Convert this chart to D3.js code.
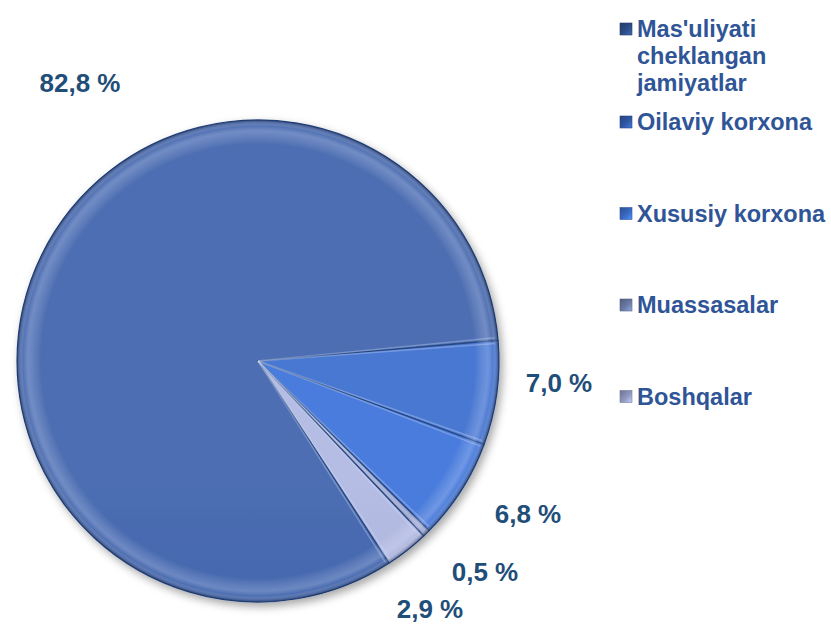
<!DOCTYPE html>
<html>
<head>
<meta charset="utf-8">
<script src="https://cdn.jsdelivr.net/npm/d3@7"></script>
<style>
  body { margin: 0; background: #ffffff; }
  svg { display: block; font-family: "Liberation Sans", Arial, sans-serif; }
</style>
</head>
<body>
<div id="my_pie"></div>
<script>
// data
const categories = ["Mas'uliyati cheklangan jamiyatlar", "Oilaviy korxona", "Xususiy korxona", "Muassasalar", "Boshqalar"];
const values = [82.8, 7.0, 6.8, 0.5, 2.9];
const valueLabels = ["82,8 %", "7,0 %", "6,8 %", "0,5 %", "2,9 %"];
const legendLines = [["Mas'uliyati", "cheklangan", "jamiyatlar"], ["Oilaviy korxona"], ["Xususiy korxona"], ["Muassasalar"], ["Boshqalar"]];

function draw_pie(){
  const width = 831, height = 626;
  const cx = 258, cy = 361, radius = 241;

  // slice colours (top, bottom of the vertical shading)
  const sliceTop = ["#4d6eb2", "#4878d2", "#4a7cdc", "#9aa3cc", "#b6bde4"];
  const sliceBot = ["#2651a2", "#305fbc", "#3265c8", "#6e7aab", "#959ecc"];
  const legendCol = ["#2c4d86", "#3258a4", "#3a69c2", "#6b7aa6", "#8f97bf"];

  // where excel put the value labels (centre x, baseline y)
  const labelPos = [[80, 92], [559, 392], [528, 523], [485, 581], [430, 618]];

  const svg = d3.select("#my_pie")
    .append("svg")
      .attr("width", width)
      .attr("height", height);

  const defs = svg.append("defs");

  const shadow = defs.append("filter")
      .attr("id", "shadow")
      .attr("x", "-10%").attr("y", "-10%")
      .attr("width", "125%").attr("height", "125%");
  shadow.append("feDropShadow")
      .attr("dx", 3).attr("dy", 4)
      .attr("stdDeviation", 4)
      .attr("flood-color", "#000")
      .attr("flood-opacity", 0.35);

  values.forEach(function(v, i){
    const g = defs.append("linearGradient")
        .attr("id", "grad" + i)
        .attr("gradientUnits", "userSpaceOnUse")
        .attr("x1", 0).attr("y1", cy - radius)
        .attr("x2", 0).attr("y2", cy + radius);
    g.append("stop").attr("offset", "0%").attr("stop-color", sliceTop[i]);
    g.append("stop").attr("offset", "100%").attr("stop-color", sliceBot[i]);

    // small pyramid-ish legend key
    const k = defs.append("linearGradient")
        .attr("id", "key" + i)
        .attr("x1", 0).attr("y1", 0).attr("x2", 1).attr("y2", 1);
    k.append("stop").attr("offset", "0%").attr("stop-color", d3.color(legendCol[i]).darker(0.8));
    k.append("stop").attr("offset", "55%").attr("stop-color", legendCol[i]);
    k.append("stop").attr("offset", "100%").attr("stop-color", d3.color(legendCol[i]).brighter(0.9));
  });

  // rim highlight for the bevel
  const rim = defs.append("radialGradient")
      .attr("id", "rim")
      .attr("gradientUnits", "userSpaceOnUse")
      .attr("cx", cx).attr("cy", cy).attr("r", radius);
  rim.append("stop").attr("offset", "0.90").attr("stop-color", "#ffffff").attr("stop-opacity", 0);
  rim.append("stop").attr("offset", "0.955").attr("stop-color", "#dfe8ff").attr("stop-opacity", 0.25);
  rim.append("stop").attr("offset", "0.975").attr("stop-color", "#ffffff").attr("stop-opacity", 0.04);
  rim.append("stop").attr("offset", "1").attr("stop-color", "#0b1f4a").attr("stop-opacity", 0.55);

  const start = 147 * Math.PI / 180;
  const pie = d3.pie()
    .sort(null)
    .startAngle(start)
    .endAngle(start + 2 * Math.PI);
  const arcs = pie(values);

  const arc = d3.arc().innerRadius(0).outerRadius(radius);

  // gradients are in page units, so each slice is shifted on its own
  const gPie = svg.append("g").attr("filter", "url(#shadow)");
  gPie.selectAll("path.slice")
    .data(arcs)
    .join("path")
      .attr("class", "slice")
      .attr("d", arc)
      .attr("transform", `translate(${cx}, ${cy})`)
      .attr("fill", (d, i) => `url(#grad${i})`)
      .attr("stroke", "#27467e")
      .attr("stroke-width", 1.2)
      .attr("stroke-linejoin", "round");

  // light bevel line just inside each straight edge
  const bevel = svg.append("g").attr("transform", `translate(${cx}, ${cy})`);
  arcs.forEach(function(d){
    [d.startAngle + 0.012, d.endAngle - 0.012].forEach(function(a){
      bevel.append("line")
        .attr("x1", 0).attr("y1", 0)
        .attr("x2", Math.sin(a) * (radius - 3))
        .attr("y2", -Math.cos(a) * (radius - 3))
        .attr("stroke", "#c8d6f5")
        .attr("stroke-opacity", 0.35)
        .attr("stroke-width", 1.5);
    });
  });

  // rim overlay
  svg.append("circle")
      .attr("cx", cx).attr("cy", cy).attr("r", radius)
      .attr("fill", "url(#rim)")
      .style("pointer-events", "none");

  // value labels
  svg.selectAll("text.val")
    .data(valueLabels)
    .join("text")
      .attr("class", "val")
      .attr("x", (d, i) => labelPos[i][0])
      .attr("y", (d, i) => labelPos[i][1])
      .attr("text-anchor", "middle")
      .style("font-size", "26px")
      .style("font-weight", "bold")
      .style("fill", "#1f4e79")
      .text(d => d);

  // legend
  const legendX = 620, firstBase = 37, lineStep = 27, entryStep = 91.5;
  const legend = svg.append("g");
  categories.forEach(function(c, i){
    const y0 = i === 0 ? firstBase : 130 + (i - 1) * entryStep;
    const g = legend.append("g");
    g.append("rect")
      .attr("x", legendX).attr("y", y0 - 14)
      .attr("width", 12).attr("height", 12)
      .attr("fill", `url(#key${i})`)
      .attr("stroke", d3.color(legendCol[i]).darker(0.6))
      .attr("stroke-width", 0.6);
    g.selectAll("text")
      .data(legendLines[i])
      .join("text")
        .attr("x", legendX + 17)
        .attr("y", (d, j) => y0 + j * lineStep)
        .style("font-size", "23.5px")
        .style("font-weight", "bold")
        .style("fill", "#2f5597")
        .text(d => d);
  });
}

draw_pie();
</script>
</body>
</html>
